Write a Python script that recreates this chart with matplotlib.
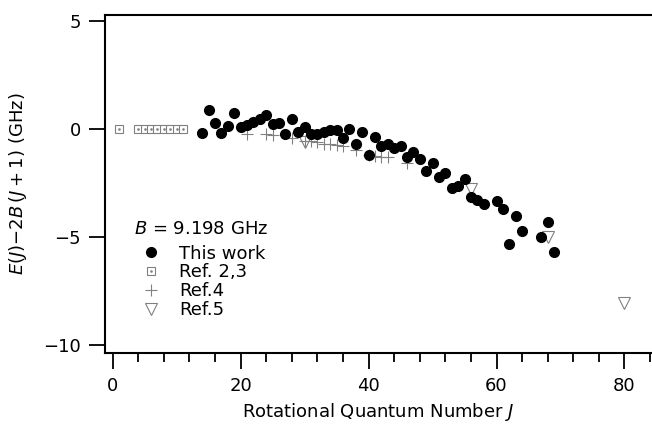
import matplotlib
matplotlib.use("Agg")
import matplotlib.pyplot as plt
from matplotlib.legend_handler import HandlerTuple

# This work (filled circles)
j_this = [14, 15, 16, 17, 18, 19, 20, 21, 22, 23, 24, 25, 26, 27, 28, 29, 30,
          31, 32, 33, 34, 35, 36, 37, 38, 39, 40, 41, 42, 43, 44, 45, 46, 47,
          48, 49, 50, 51, 52, 53, 54, 55, 56, 57, 58, 60, 61, 62, 63, 64, 67,
          68, 69]
e_this = [-0.2, 0.88, 0.29, -0.2, 0.14, 0.73, 0.1, 0.19, 0.31, 0.45, 0.65,
          0.23, 0.26, -0.25, 0.45, -0.12, 0.08, -0.25, -0.22, -0.16, -0.03,
          -0.05, -0.42, 0.02, -0.71, -0.12, -1.18, -0.37, -0.79, -0.67, -0.87,
          -0.79, -1.28, -1.07, -1.38, -1.95, -1.56, -2.24, -2.03, -2.75, -2.62,
          -2.33, -3.15, -3.29, -3.45, -3.31, -3.71, -5.33, -4.03, -4.72, -5.01,
          -4.3, -5.71]

# Ref. 2,3 (open squares)
j_ref23 = [1, 4, 5, 6, 7, 8, 9, 10, 11]
e_ref23 = [0, 0, 0, 0, 0, 0, 0, 0, 0]

# Ref.4 (plus)
j_ref4 = [21, 24, 25, 28, 30, 31, 32, 33, 34, 35, 36, 38, 40, 41, 42, 43, 46]
e_ref4 = [-0.22, -0.25, -0.28, -0.43, -0.55, -0.56, -0.62, -0.67, -0.7, -0.75,
          -0.8, -0.95, -1.2, -1.27, -1.28, -1.29, -1.58]

# Ref.5 (open triangles)
j_ref5 = [30, 56, 68, 80]
e_ref5 = [-0.62, -2.79, -5.0, -8.07]

plt.rcParams['font.family'] = 'DejaVu Sans'
plt.rcParams['font.size'] = 13
plt.rcParams['mathtext.fontset'] = 'dejavusans'

grey = '#808080'

fig = plt.figure(figsize=(6.52, 4.29), dpi=100)
ax = fig.add_axes([105 / 652, 1 - 353 / 429, 1 - 105 / 652, (353 - 15) / 429])

h1, = ax.plot(j_this, e_this, 'o', color='black', ms=7, ls='none', zorder=4)
h2a, = ax.plot(j_ref23, e_ref23, 's', mfc='white', mec=grey, mew=0.8, ms=5.5,
               ls='none', zorder=3)
h2b, = ax.plot(j_ref23, e_ref23, 's', color=grey, ms=0.8, ls='none', zorder=3)
h3, = ax.plot(j_ref4, e_ref4, '+', color=grey, ms=8.5, mew=0.8, ls='none', zorder=2)
h4, = ax.plot(j_ref5, e_ref5, 'v', mfc='none', mec=grey, mew=0.8, ms=8,
              ls='none', zorder=3)

ax.set_xlim(-1.19, 84.3)
ax.set_ylim(-10.37, 5.28)
ax.set_xticks([0, 20, 40, 60, 80])
ax.set_xticks(range(0, 85, 4), minor=True)
ax.set_yticks([-10, -5, 0, 5])
ax.tick_params(which='major', direction='out', length=11.5, width=1.3,
               labelsize=13, pad=6)
ax.tick_params(which='minor', direction='out', length=6.5, width=1.3)
ax.spines['right'].set_visible(False)
for s in ['left', 'bottom', 'top']:
    ax.spines[s].set_linewidth(1.5)

ax.set_xlabel('Rotational Quantum Number $J$', labelpad=4)
ax.set_ylabel(r'$E(J)$$-$2$B\,(J+1)$ (GHz)', labelpad=10)

leg = ax.legend([h1, (h2a, h2b), h3, h4],
                ['This work', 'Ref. 2,3', 'Ref.4', 'Ref.5'],
                handler_map={tuple: HandlerTuple(ndivide=1)},
                title='$B$ = 9.198 GHz', title_fontsize=13, fontsize=13,
                loc='lower left', bbox_to_anchor=(0.037, 0.073),
                frameon=False, borderpad=0, labelspacing=0.05,
                handlelength=1.8, handletextpad=0.7, alignment='left')
leg._legend_box.sep = 5

fig.savefig('out.png', dpi=100)
